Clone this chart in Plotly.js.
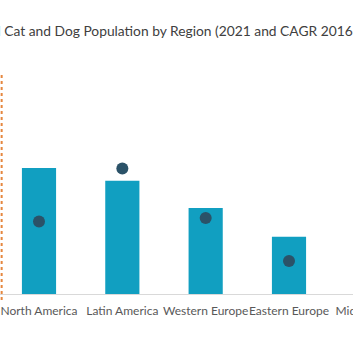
<!DOCTYPE html>
<html>
<head>
<meta charset="utf-8">
<script src="https://cdn.plot.ly/plotly-3.0.1.min.js"></script>
<style>
html,body{margin:0;padding:0;overflow:hidden;background:#fff;width:353px;height:353px;}
#chart{position:absolute;left:-60px;top:0;}
</style>
</head>
<body>
<div id="chart"></div>
<script>
// Data (millions of cats and dogs, 2021; CAGR %)
const regions = ["North America", "Latin America", "Western Europe", "Eastern Europe", "Middle East & Africa"];
const tickLabels = ["North America", "Latin America", "Western Europe", "Eastern Europe", "Middle East &<br>Africa"];
const population2021 = [189, 170, 129, 86, 60];
const cagr = [2.2, 3.8, 2.3, 1.0, 2.5];
const chartTitle = "Global Cat and Dog Population by Region (2021 and CAGR 2016-2021)";

const traces = [
  {
    type: "bar",
    x: regions,
    y: population2021,
    name: "2021",
    width: 0.41,
    marker: {color: "#119fc1"},
    hoverinfo: "x+y"
  },
  {
    type: "scatter",
    mode: "markers",
    x: regions,
    y: cagr,
    name: "CAGR 2016-2021",
    yaxis: "y2",
    marker: {color: "#2b5268", size: 12}
  }
];

const layout = {
  width: 474,
  height: 353,
  margin: {l: 60, r: 0, t: 60, b: 59},
  paper_bgcolor: "#ffffff",
  plot_bgcolor: "#ffffff",
  showlegend: false,
  font: {family: "Lato, 'Open Sans', sans-serif", color: "#595959"},
  title: {
    text: chartTitle,
    font: {family: "Lato, 'Open Sans', sans-serif", size: 13.8, color: "#404040"},
    xref: "container",
    x: 0.046,
    xanchor: "left",
    yref: "container",
    y: 0.913,
    yanchor: "middle"
  },
  xaxis: {
    range: [-0.468, 4.5],
    showgrid: false,
    showline: true,
    linecolor: "#d9d9d9",
    linewidth: 1,
    ticks: "",
    tickangle: 0,
    tickmode: "array",
    tickvals: regions,
    ticktext: tickLabels,
    ticklabelstandoff: 6,
    tickfont: {size: 12, color: "#595959"},
    fixedrange: true
  },
  yaxis: {
    range: [0, 351],
    visible: false,
    fixedrange: true
  },
  yaxis2: {
    range: [0, 7.09],
    overlaying: "y",
    side: "right",
    visible: false,
    fixedrange: true
  },
  shapes: [
    {
      type: "line",
      xref: "paper",
      yref: "paper",
      x0: 0.004, x1: 0.004,
      y0: -0.026, y1: 0.936,
      line: {color: "#e5873f", width: 2, dash: "dot"}
    }
  ]
};

Plotly.newPlot("chart", traces, layout, {displayModeBar: false, staticPlot: true});
</script>
</body>
</html>
